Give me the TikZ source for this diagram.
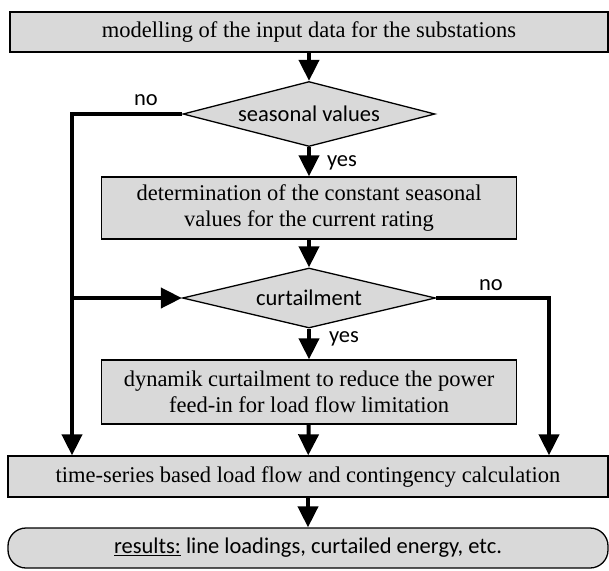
\documentclass[tikz,border=0pt]{standalone}
\usepackage{fontspec}
\setmainfont{Liberation Serif}
\newfontfamily\calibri{Carlito}
\usetikzlibrary{arrows.meta, positioning, shapes.geometric}
\definecolor{boxgray}{RGB}{217,217,217}
\tikzset{x=1pt, y=-1pt,
    flow/.style={-{Triangle[length=21pt,width=20pt]}, line width=4pt},
    process/.style={rectangle, draw, fill=boxgray, line width=1.3pt, inner sep=0pt,
        align=center, font=\fontsize{22.5}{26.5}\selectfont},
    decision/.style={diamond, aspect=4, draw, fill=boxgray, line width=1.3pt, inner sep=0pt,
        font=\calibri\fontsize{22.5}{26}\selectfont},
    terminal/.style={rectangle, rounded corners=18pt, draw, fill=boxgray, line width=1.3pt,
        inner sep=0pt, font=\calibri\fontsize{22.5}{26}\selectfont},
    textnode/.style={font=\calibri\fontsize{22.5}{26}\selectfont}}
\begin{document}
\begin{tikzpicture}
\useasboundingbox (0,0) rectangle (609,570);
\node[process, minimum width=598pt, minimum height=40pt] (model) at (309,32)
    {modelling of the input data for the substations};
\node[decision, minimum width=252pt, minimum height=65pt] (season) at (309,114) {seasonal values};
\node[process, minimum width=415pt, minimum height=62pt] (constant) at (309,208)
    {determination of the constant seasonal\\values for the current rating};
\node[decision, minimum width=253pt, minimum height=60pt] (curtail) at (309,298) {curtailment};
\node[process, minimum width=415pt, minimum height=64pt] (dynamic) at (309,392)
    {dynamik curtailment to reduce the power\\feed-in for load flow limitation};
\node[process, minimum width=600pt, minimum height=41pt] (loadflow) at (308,476.5)
    {time-series based load flow and contingency calculation};
\node[terminal, minimum width=600pt, minimum height=40pt] (results) at (308,548)
    {\underline{results:} line loadings, curtailed energy, etc.};

\coordinate (leftrail) at (72,0);
\coordinate (rightrail) at (549,0);

\node[textnode] (noseason) at (146,100) {no};
\node[textnode] (yesseason) at (342,163) {yes};
\node[textnode] (nocurtail) at (491,285) {no};
\node[textnode] (yescurtail) at (344,339) {yes};

\path[flow]
    (model)    edge (season)
    (season)   edge (constant)
    (constant) edge (curtail)
    (curtail)  edge (dynamic)
    (dynamic)  edge (loadflow)
    (loadflow) edge (results);
\draw[flow] (season.west) -| (leftrail |- loadflow.north);
\draw[flow] (leftrail |- curtail.west) -- (curtail.west);
\draw[flow] (curtail.east) -| (rightrail |- loadflow.north);
\end{tikzpicture}
\end{document}
